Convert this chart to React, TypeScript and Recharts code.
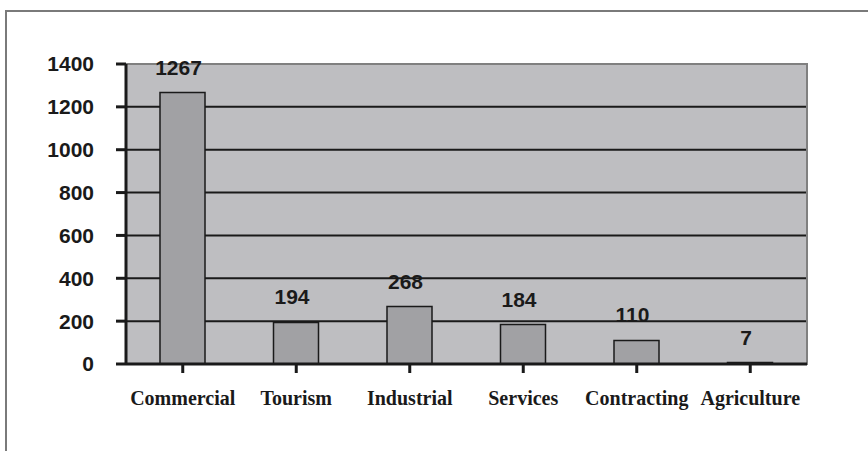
import { BarChart, Bar, XAxis, YAxis, CartesianGrid, ReferenceArea, LabelList } from "recharts";

const categories = ["Commercial", "Tourism", "Industrial", "Services", "Contracting", "Agriculture"];
const counts = [1267, 194, 268, 184, 110, 7];
const yTicks = [0, 200, 400, 600, 800, 1000, 1200, 1400];

const data = categories.map((name, i) => ({ name, count: counts[i] }));

export default function App() {
  return (
    <div style={{ position: "absolute", left: 0, top: 0, width: 868, height: 451, background: "#fff", overflow: "hidden" }}>
      {/* outer frame, only top and left edges are visible */}
      <div
        style={{
          position: "absolute",
          left: 5,
          top: 10,
          width: 900,
          height: 500,
          borderTop: "2px solid #7a7a7a",
          borderLeft: "2px solid #7a7a7a",
        }}
      />
      <div style={{ position: "absolute", left: 0, top: 0 }}>
        <BarChart width={868} height={451} data={data} margin={{ top: 64, right: 61, bottom: 47, left: 8 }} barSize={45}>
          <CartesianGrid vertical={false} stroke="#1a1a1a" strokeWidth={2} fill="#bebec1" fillOpacity={1} />
          <ReferenceArea y1={0} y2={1400} fill="none" fillOpacity={0} stroke="#808080" strokeWidth={2} ifOverflow="visible" />
          <XAxis
            dataKey="name"
            height={40}
            tickLine={{ stroke: "#1a1a1a", strokeWidth: 3 }}
            axisLine={{ stroke: "#1a1a1a", strokeWidth: 3 }}
            tickSize={9}
            tickMargin={18}
            interval={0}
            tick={{ fill: "#1a1a1a", fontFamily: "Liberation Serif", fontWeight: "bold", fontSize: 20 }}
          />
          <YAxis
            width={118}
            domain={[0, 1400]}
            ticks={yTicks}
            interval={0}
            tickLine={{ stroke: "#1a1a1a", strokeWidth: 3 }}
            axisLine={{ stroke: "#1a1a1a", strokeWidth: 3 }}
            tickSize={10}
            tickMargin={22}
            tick={{ fill: "#1a1a1a", fontFamily: "Liberation Sans", fontWeight: "bold", fontSize: 21 }}
          />
          <Bar dataKey="count" fill="#a1a1a4" stroke="#1a1a1a" strokeWidth={1.5} isAnimationActive={false}>
            <LabelList
              dataKey="count"
              position="top"
              offset={18}
              dx={-4}
              fill="#1a1a1a"
              fontFamily="Liberation Sans"
              fontWeight="bold"
              fontSize={21}
            />
          </Bar>
        </BarChart>
      </div>
    </div>
  );
}
